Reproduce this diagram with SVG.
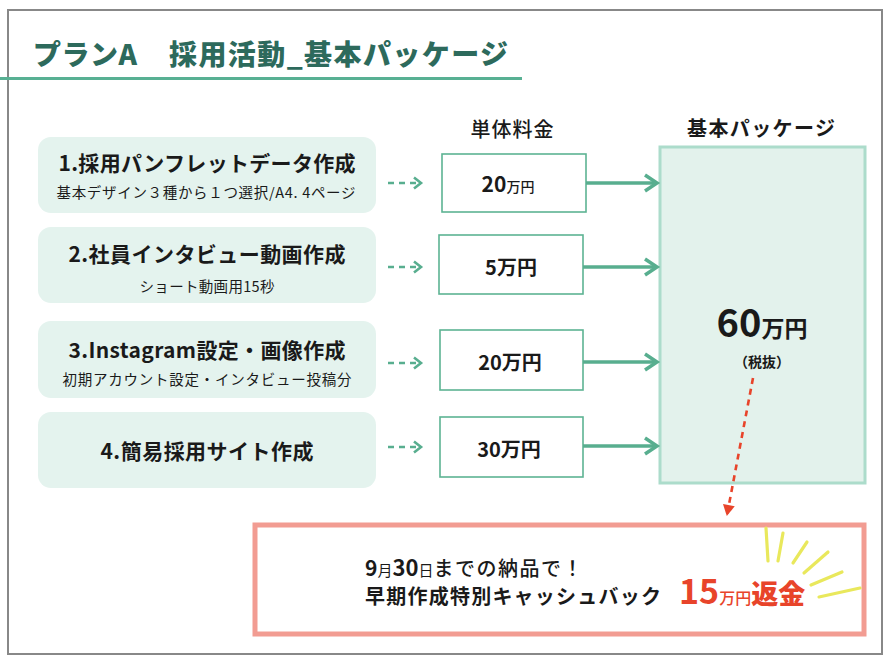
<svg xmlns="http://www.w3.org/2000/svg" width="896" height="670" viewBox="0 0 896 670">
<style>
text{font-family:"Noto Sans CJK JP","Noto Sans",sans-serif;fill:#1a1a1a}
.node{fill:#e4f3ee}
.ttl{font-size:21px;font-weight:700}
.sub{font-size:14.5px;font-weight:400}
.price{fill:#fff;stroke:#5db393;stroke-width:1.6}
.pt{font-size:20px;font-weight:700}
.hdr{font-size:20px}
.solid{stroke:#58ae8f;stroke-width:3.5;fill:none}
.dash{stroke:#58ae8f;stroke-width:2.6;fill:none;stroke-dasharray:6 5}
.ray{stroke:#e9e85c;stroke-width:3.2;stroke-linecap:round}
</style>
<defs>
<marker id="chev" markerUnits="userSpaceOnUse" markerWidth="16" markerHeight="20" refX="13" refY="9" orient="auto" overflow="visible">
<path d="M1,1 L13,9 L1,17" fill="none" stroke="#58ae8f" stroke-width="3.5"/>
</marker>
<marker id="chevs" markerUnits="userSpaceOnUse" markerWidth="12" markerHeight="14" refX="8" refY="6" orient="auto" overflow="visible">
<path d="M1,0.5 L8,6 L1,11.5" fill="none" stroke="#58ae8f" stroke-width="2.6"/>
</marker>
<marker id="tri" markerUnits="userSpaceOnUse" markerWidth="14" markerHeight="14" refX="10" refY="6" orient="auto" overflow="visible">
<path d="M0,0 L11,6 L0,12 Z" fill="#e8442a"/>
</marker>
</defs>
<rect width="896" height="670" fill="#fff"/>
<rect x="8" y="10" width="874" height="644" fill="none" stroke="#888" stroke-width="2"/>

<g id="title">
<text x="33" y="65" style="font-size:28px;font-weight:900;fill:#2d6a5c" textLength="104">プランA</text>
<text x="169" y="65" style="font-size:28px;font-weight:900;fill:#2d6a5c" textLength="339">採用活動_基本パッケージ</text>
<line x1="0" y1="78.5" x2="522" y2="78.5" stroke="#58b093" stroke-width="3"/>
</g>

<g id="headers">
<text class="hdr" x="512" y="137" text-anchor="middle" style="font-weight:500" textLength="83">単体料金</text>
<text class="hdr" x="761" y="136" text-anchor="middle" style="font-weight:700" textLength="148">基本パッケージ</text>
</g>

<g id="n1">
<rect class="node" x="38" y="137" width="338" height="76" rx="13"/>
<text class="ttl" x="207" y="171" text-anchor="middle" textLength="297">1.採用パンフレットデータ作成</text>
<text class="sub" x="206" y="198" text-anchor="middle" textLength="299">基本デザイン３種から１つ選択/A4. 4ページ</text>
</g>
<g id="n2">
<rect class="node" x="38" y="227" width="338" height="76" rx="13"/>
<text class="ttl" x="207" y="262" text-anchor="middle" textLength="277">2.社員インタビュー動画作成</text>
<text class="sub" x="207" y="292" text-anchor="middle" textLength="135">ショート動画用15秒</text>
</g>
<g id="n3">
<rect class="node" x="38" y="321" width="338" height="77" rx="13"/>
<text class="ttl" x="207" y="358" text-anchor="middle" textLength="277">3.Instagram設定・画像作成</text>
<text class="sub" x="207" y="385" text-anchor="middle" textLength="289">初期アカウント設定・インタビュー投稿分</text>
</g>
<g id="n4">
<rect class="node" x="38" y="412" width="338" height="76" rx="13"/>
<text class="ttl" x="207" y="459" text-anchor="middle" textLength="213">4.簡易採用サイト作成</text>
</g>

<g id="p1">
<rect class="price" x="442" y="154" width="144" height="58"/>
<text x="508" y="192" text-anchor="middle"><tspan style="font-size:21px;font-weight:700">20</tspan><tspan style="font-size:14px;font-weight:500">万円</tspan></text>
</g>
<g id="p2">
<rect class="price" x="439" y="235" width="144" height="59"/>
<text class="pt" x="511" y="275" text-anchor="middle">5万円</text>
</g>
<g id="p3">
<rect class="price" x="440" y="330" width="143" height="60"/>
<text class="pt" x="510" y="370" text-anchor="middle">20万円</text>
</g>
<g id="p4">
<rect class="price" x="440" y="417" width="143" height="60"/>
<text class="pt" x="509" y="457" text-anchor="middle">30万円</text>
</g>

<g id="package">
<rect x="660" y="147" width="205" height="336" fill="#e3f2ec" stroke="#acdccb" stroke-width="3"/>
<text x="762" y="337" text-anchor="middle"><tspan style="font-size:38px;font-weight:700">60</tspan><tspan style="font-size:23px;font-weight:700">万円</tspan></text>
<text x="762" y="367" text-anchor="middle" style="font-size:14px;font-weight:700">（税抜）</text>
</g>

<g id="bonus">
<rect x="255" y="525" width="609" height="109" fill="#fff" stroke="#f29c92" stroke-width="5"/>
<text x="365" y="576"><tspan style="font-size:21px;font-weight:700">9</tspan><tspan style="font-size:15px">月</tspan><tspan style="font-size:22px;font-weight:700">30</tspan><tspan style="font-size:15px">日</tspan><tspan style="font-size:20px;font-weight:500;letter-spacing:1.5px">までの納品で！</tspan></text>
<text x="365" y="604" style="font-size:20px;font-weight:700" textLength="296">早期作成特別キャッシュバック</text>
<text x="679" y="604" style="fill:#e8442a"><tspan style="font-size:34px;font-weight:700">15</tspan><tspan style="font-size:16px;font-weight:500;fill:#e8442a">万円</tspan><tspan style="font-size:27px;font-weight:900;fill:#e8442a">返金</tspan></text>
<line class="ray" x1="766" y1="528" x2="768" y2="561"/>
<line class="ray" x1="783" y1="533" x2="778" y2="561"/>
<line class="ray" x1="807" y1="542" x2="793" y2="563"/>
<line class="ray" x1="828" y1="552" x2="804" y2="573"/>
<line class="ray" x1="842" y1="572" x2="811" y2="585"/>
<line class="ray" x1="860" y1="588" x2="819" y2="597"/>
</g>

<g id="connectors">
<line class="dash" x1="388" y1="183" x2="421" y2="183" marker-end="url(#chevs)"/>
<line class="dash" x1="388" y1="267" x2="421" y2="267" marker-end="url(#chevs)"/>
<line class="dash" x1="388" y1="363" x2="421" y2="363" marker-end="url(#chevs)"/>
<line class="dash" x1="388" y1="447" x2="421" y2="447" marker-end="url(#chevs)"/>
<line class="solid" x1="586" y1="183" x2="657" y2="183" marker-end="url(#chev)"/>
<line class="solid" x1="583" y1="267" x2="657" y2="267" marker-end="url(#chev)"/>
<line class="solid" x1="583" y1="362" x2="657" y2="362" marker-end="url(#chev)"/>
<line class="solid" x1="583" y1="446" x2="657" y2="446" marker-end="url(#chev)"/>
<line x1="753" y1="378" x2="727" y2="515" stroke="#e8442a" stroke-width="2.6" stroke-dasharray="6 5" marker-end="url(#tri)"/>
</g>
</svg>
